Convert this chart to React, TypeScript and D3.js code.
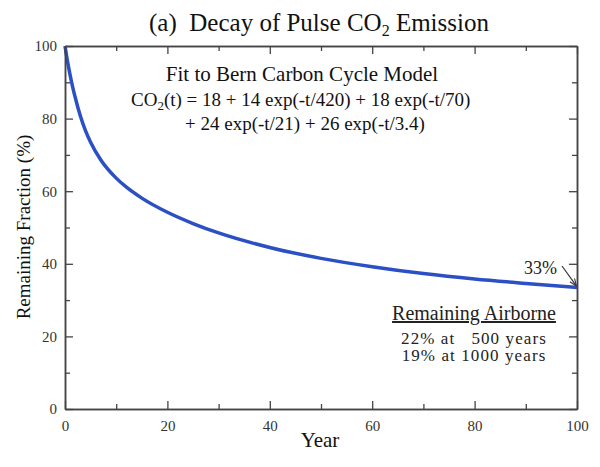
import { useEffect, useRef } from "react";
import * as d3 from "d3";

const MARGIN = { top: 46, right: 23, bottom: 58, left: 65 };
const WIDTH = 600;
const HEIGHT = 467;

// values (year, remaining %)
const years = [0, 0.5, 1, 1.5, 2, 3, 4, 5, 7, 10, 12, 15, 20, 25, 30, 40, 50, 60, 70, 80, 90, 100];
const remaining = [100, 95.7, 92.0, 88.7, 85.8, 80.7, 76.7, 73.5, 68.6, 63.6, 61.1, 58.1, 54.2, 51.1, 48.5, 44.5, 41.5, 39.2, 37.3, 35.8, 34.6, 33.5];

const xMajor = [0, 20, 40, 60, 80, 100];
const xMinor = [10, 30, 50, 70, 90];
const yMajor = [0, 20, 40, 60, 80, 100];
const yMinor = [10, 30, 50, 70, 90];

const airborneLines = ["22% at\u00a0\u00a0 500 years", "19% at 1000 years"];

const FONT = "Liberation Serif";

export default function App() {
  const axesRef = useRef<SVGGElement>(null);
  const boundsWidth = WIDTH - MARGIN.left - MARGIN.right;
  const boundsHeight = HEIGHT - MARGIN.top - MARGIN.bottom;

  const xScale = d3.scaleLinear().domain([0, 100]).range([0, boundsWidth]);
  const yScale = d3.scaleLinear().domain([0, 100]).range([boundsHeight, 0]);

  const points = years.map((y, i) => [y, remaining[i]] as [number, number]);
  const linePath = d3
    .line<[number, number]>()
    .x((d) => xScale(d[0]))
    .y((d) => yScale(d[1]))
    .curve(d3.curveMonotoneX)(points);

  useEffect(() => {
    const g = d3.select(axesRef.current);
    g.selectAll("*").remove();

    const styleAxis = (sel: any) => {
      sel.attr("font-family", FONT).attr("font-size", 15);
      sel.selectAll("path").attr("stroke", "#444").attr("stroke-width", 1.5);
      sel.selectAll("line").attr("stroke", "#444").attr("stroke-width", 1.3);
      sel.selectAll("text").attr("fill", "#333");
    };

    // bottom
    g.append("g")
      .attr("transform", `translate(0,${boundsHeight})`)
      .call(d3.axisBottom(xScale).tickValues(xMajor).tickSizeInner(-8).tickSizeOuter(0).tickPadding(11))
      .call(styleAxis);
    g.append("g")
      .attr("transform", `translate(0,${boundsHeight})`)
      .call(d3.axisBottom(xScale).tickValues(xMinor).tickSizeInner(-5).tickSizeOuter(0).tickFormat(() => ""))
      .call(styleAxis);
    // top
    g.append("g")
      .call(d3.axisTop(xScale).tickValues(xMajor).tickSizeInner(-8).tickSizeOuter(0).tickFormat(() => ""))
      .call(styleAxis);
    g.append("g")
      .call(d3.axisTop(xScale).tickValues(xMinor).tickSizeInner(-5).tickSizeOuter(0).tickFormat(() => ""))
      .call(styleAxis);
    // left
    g.append("g")
      .call(d3.axisLeft(yScale).tickValues(yMajor).tickSizeInner(-8).tickSizeOuter(0).tickPadding(8))
      .call(styleAxis);
    g.append("g")
      .call(d3.axisLeft(yScale).tickValues(yMinor).tickSizeInner(-5).tickSizeOuter(0).tickFormat(() => ""))
      .call(styleAxis);
    // right
    g.append("g")
      .attr("transform", `translate(${boundsWidth},0)`)
      .call(d3.axisRight(yScale).tickValues(yMajor).tickSizeInner(-8).tickSizeOuter(0).tickFormat(() => ""))
      .call(styleAxis);
    g.append("g")
      .attr("transform", `translate(${boundsWidth},0)`)
      .call(d3.axisRight(yScale).tickValues(yMinor).tickSizeInner(-5).tickSizeOuter(0).tickFormat(() => ""))
      .call(styleAxis);
  }, [boundsWidth, boundsHeight]);

  const endX = xScale(years[years.length - 1]);
  const endY = yScale(remaining[remaining.length - 1]);

  return (
    <svg
      width={WIDTH}
      height={HEIGHT}
      style={{ position: "absolute", left: 0, top: 0, background: "#fff" }}
    >
      <defs>
        <marker id="arr" viewBox="0 0 10 10" refX="9" refY="5" markerWidth="6" markerHeight="6" orient="auto">
          <path d="M0,1 L10,5 L0,9" fill="none" stroke="#333" strokeWidth={1.5} />
        </marker>
      </defs>
      <text x={319} y={31} textAnchor="middle" fontSize={25} fill="#111" fontFamily={FONT}>
        {"(a)\u00a0\u00a0Decay of Pulse CO"}
        <tspan fontSize={16} dy={5}>2</tspan>
        <tspan dy={-5}> Emission</tspan>
      </text>
      <g transform={`translate(${MARGIN.left},${MARGIN.top})`}>
        <path d={linePath ?? ""} fill="none" stroke="#2b4fc4" strokeWidth={3.5} />
        <g ref={axesRef} />
        <text x={237} y={35} textAnchor="middle" fontSize={21} fill="#111" fontFamily={FONT}>
          Fit to Bern Carbon Cycle Model
        </text>
        <text x={66} y={60} fontSize={19} fill="#111" fontFamily={FONT}>
          CO<tspan fontSize={13} dy={4}>2</tspan>
          <tspan dy={-4}>(t) = 18 + 14 exp(-t/420) + 18 exp(-t/70)</tspan>
        </text>
        <text x={120} y={84} fontSize={19} fill="#111" fontFamily={FONT}>
          + 24 exp(-t/21) + 26 exp(-t/3.4)
        </text>
        <text x={459} y={228} fontSize={18} fill="#222" fontFamily={FONT}>
          33%
        </text>
        <line x1={497} y1={220} x2={endX - 1} y2={endY - 2} stroke="#333" strokeWidth={1.2} markerEnd="url(#arr)" />
        <text x={409} y={274} textAnchor="middle" fontSize={20} fill="#222" fontFamily={FONT} textDecoration="underline">
          Remaining Airborne
        </text>
        <text textAnchor="middle" fontSize={17} letterSpacing={1.1} fill="#222" fontFamily={FONT}>
          {airborneLines.map((t, i) => (
            <tspan key={t} x={409} y={298 + i * 17}>
              {t}
            </tspan>
          ))}
        </text>
      </g>
      <text x={320} y={447} textAnchor="middle" fontSize={21} fill="#111" fontFamily={FONT}>
        Year
      </text>
      <text
        transform={`translate(30,227) rotate(-90)`}
        textAnchor="middle"
        fontSize={19}
        fill="#111"
        fontFamily={FONT}
      >
        Remaining Fraction (%)
      </text>
    </svg>
  );
}
